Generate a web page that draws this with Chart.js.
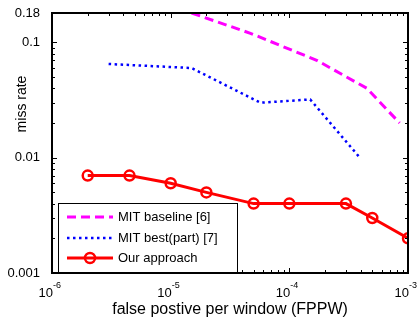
<!DOCTYPE html>
<html>
<head>
<meta charset="utf-8">
<script src="https://cdn.jsdelivr.net/npm/chart.js@4.4.0/dist/chart.umd.min.js"></script>
<style>
body{margin:0;background:#fff;}
</style>
</head>
<body>
<canvas id="myChart" width="419" height="320"></canvas>
<script>
// values
const baselineX = [1.5e-5, 4.7e-5, 1.7e-4, 4.5e-4, 8.5e-4];
const baselineY = [0.18, 0.12, 0.07, 0.04, 0.02];
const bestX = [3e-6, 1.5e-5, 5.7e-5, 1.5e-4, 4e-4];
const bestY = [0.065, 0.06, 0.03, 0.032, 0.0098];
const oursX = [2e-6, 4.5e-6, 1e-5, 2e-5, 5e-5, 1e-4, 3e-4, 5e-4, 1e-3];
const oursY = [0.007, 0.007, 0.006, 0.005, 0.004, 0.004, 0.004, 0.003, 0.002];
const yTicks = [0.001, 0.01, 0.1, 0.18];
const xTicks = [1e-6, 1e-5, 1e-4, 1e-3];
const xTickExp = ['-6', '-5', '-4', '-3'];

const FONT = "'Liberation Sans', Arial, sans-serif";
Chart.defaults.font.family = FONT;
Chart.defaults.color = '#000';

function pts(xs, ys) {
    return xs.map((x, i) => ({x: x, y: ys[i]}));
}

// matlab-ish frame, inward ticks, exponent labels, ylabel and legend
const matlabAxes = {
    id: 'matlabAxes',
    afterDraw(chart) {
        const ctx = chart.ctx;
        const ca = chart.chartArea;
        const xs = chart.scales.x, ys = chart.scales.y;
        ctx.save();
        ctx.strokeStyle = '#000';
        ctx.lineWidth = 1;

        // ticks
        ctx.beginPath();
        for (let k = -6; k <= -3; k++) {
            for (let m = 1; m <= 9; m++) {
                const v = m * Math.pow(10, k);
                if (v > 1e-3 * 1.0001) break;
                const px = Math.round(xs.getPixelForValue(v)) + 0.5;
                const len = m === 1 ? 5 : 3;
                ctx.moveTo(px, ca.bottom); ctx.lineTo(px, ca.bottom - len);
                ctx.moveTo(px, ca.top); ctx.lineTo(px, ca.top + len);
            }
        }
        for (let k = -3; k <= -1; k++) {
            for (let m = 1; m <= 9; m++) {
                const v = m * Math.pow(10, k);
                if (v > 0.18) break;
                const py = Math.round(ys.getPixelForValue(v)) + 0.5;
                const len = m === 1 ? 5 : 3;
                ctx.moveTo(ca.left, py); ctx.lineTo(ca.left + len, py);
                ctx.moveTo(ca.right, py); ctx.lineTo(ca.right - len, py);
            }
        }
        ctx.stroke();

        // frame
        ctx.lineWidth = 2;
        ctx.strokeRect(ca.left, ca.top, ca.right - ca.left, ca.bottom - ca.top);

        // x tick labels 10^k
        ctx.fillStyle = '#000';
        ctx.textBaseline = 'alphabetic';
        xTicks.forEach((v, i) => {
            const px = xs.getPixelForValue(v);
            ctx.font = '13px ' + FONT;
            ctx.textAlign = 'right';
            ctx.fillText('10', px + 1, ca.bottom + 24);
            ctx.font = '9px ' + FONT;
            ctx.textAlign = 'left';
            ctx.fillText(xTickExp[i], px + 1, ca.bottom + 15);
        });

        // y label
        ctx.save();
        ctx.translate(22, 104);
        ctx.rotate(-Math.PI / 2);
        ctx.font = '14px ' + FONT;
        ctx.textAlign = 'center';
        ctx.textBaseline = 'middle';
        ctx.fillText('miss rate', 0, 0);
        ctx.restore();

        // legend box
        const bx = ca.left + 6, bw = 179, bh = 69, by = ca.bottom - 1 - bh;
        ctx.fillStyle = '#fff';
        ctx.fillRect(bx, by, bw, bh);
        ctx.lineWidth = 1;
        ctx.strokeStyle = '#000';
        ctx.strokeRect(bx + 0.5, by + 0.5, bw, bh);
        const rows = [14, 35, 55];
        chart.data.datasets.forEach((ds, i) => {
            const y = by + rows[i];
            const x0 = bx + 9, x1 = bx + 55;
            ctx.strokeStyle = ds.borderColor;
            ctx.lineWidth = ds.borderWidth;
            ctx.setLineDash(ds.borderDash || []);
            ctx.beginPath();
            ctx.moveTo(x0, y); ctx.lineTo(x1, y);
            ctx.stroke();
            ctx.setLineDash([]);
            if (ds.pointRadius > 0) {
                ctx.lineWidth = ds.pointBorderWidth;
                ctx.beginPath();
                ctx.arc((x0 + x1) / 2, y, ds.pointRadius, 0, Math.PI * 2);
                ctx.stroke();
            }
            ctx.fillStyle = '#000';
            ctx.font = '13px ' + FONT;
            ctx.textAlign = 'left';
            ctx.textBaseline = 'middle';
            ctx.fillText(ds.label, bx + 60, y);
        });
        ctx.restore();
    }
};

const chart = new Chart(document.getElementById('myChart').getContext('2d'), {
    type: 'line',
    data: {
        datasets: [{
            label: 'MIT baseline [6]',
            data: pts(baselineX, baselineY),
            borderColor: '#ff00ff',
            borderWidth: 3,
            borderDash: [9, 5],
            pointRadius: 0
        }, {
            label: 'MIT best(part) [7]',
            data: pts(bestX, bestY),
            borderColor: '#0000ff',
            borderWidth: 2.5,
            borderDash: [2.5, 3.5],
            pointRadius: 0
        }, {
            label: 'Our approach',
            data: pts(oursX, oursY),
            borderColor: '#ff0000',
            borderWidth: 3,
            pointRadius: 5,
            pointBorderWidth: 2.5,
            pointBorderColor: '#ff0000',
            pointBackgroundColor: 'rgba(0,0,0,0)'
        }]
    },
    options: {
        responsive: false,
        animation: false,
        devicePixelRatio: 1,
        layout: {
            padding: {left: 0, right: 11, top: 13, bottom: 0}
        },
        plugins: {
            legend: {display: false},
            tooltip: {enabled: false}
        },
        scales: {
            x: {
                type: 'logarithmic',
                min: 1e-6,
                max: 1e-3,
                grid: {display: false},
                border: {display: false},
                ticks: {display: false},
                afterBuildTicks: s => { s.ticks = xTicks.map(v => ({value: v})); },
                afterFit: s => { s.height = 47; },
                title: {
                    display: true,
                    text: 'false postive per window (FPPW)',
                    font: {size: 16},
                    padding: {top: 0, bottom: 1}
                }
            },
            y: {
                type: 'logarithmic',
                min: 0.001,
                max: 0.18,
                grid: {display: false},
                border: {display: false},
                ticks: {
                    padding: 4,
                    autoSkip: false,
                    font: {size: 13},
                    callback: v => String(v)
                },
                afterBuildTicks: s => { s.ticks = yTicks.map(v => ({value: v})); },
                afterFit: s => { s.width = 52; }
            }
        }
    },
    plugins: [matlabAxes]
});
</script>
</body>
</html>
